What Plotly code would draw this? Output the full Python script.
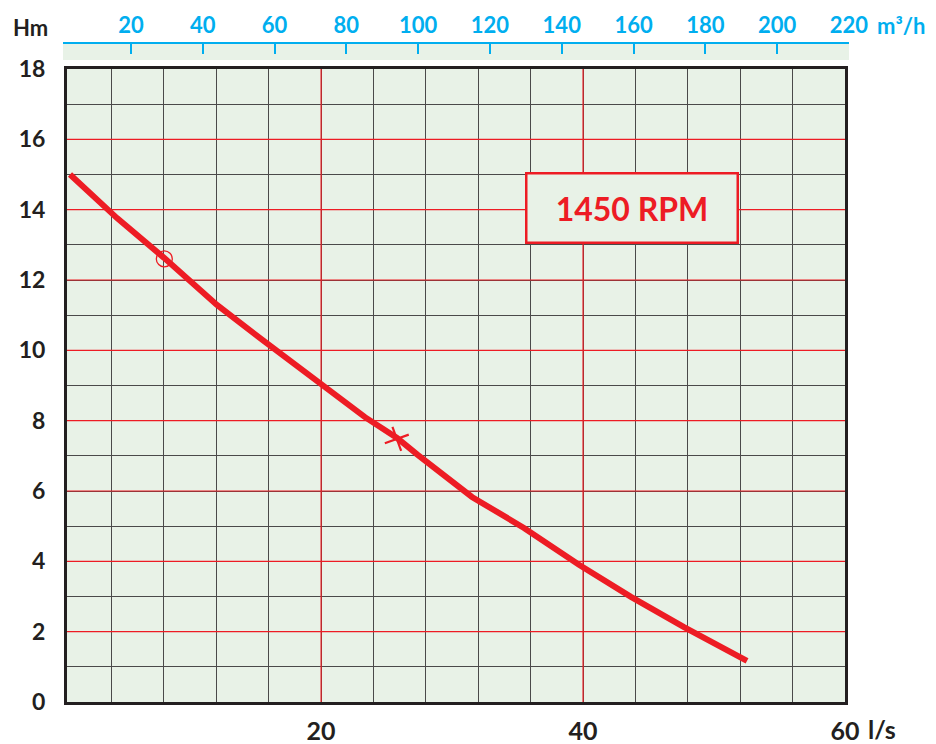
import plotly.graph_objects as go

# ---- data ----
flow_ls = [0.83, 4.42, 8.01, 12.05, 15.72, 19.31, 23.35, 25.80, 27.40, 31.52, 35.49, 39.69, 43.66, 47.71, 52.52]
head_m = [15.0, 13.76, 12.63, 11.29, 10.24, 9.21, 8.10, 7.51, 7.02, 5.83, 4.95, 3.90, 2.99, 2.13, 1.17]
circle_flow = [8.03]
circle_head = [12.6]
star_flow = [25.78]
star_head = [7.48]
rpm_label = "1450 RPM"
head_label = "Hm"
flow_unit_bottom = "l/s"
flow_unit_top = "m³/h"
x_labels = [20, 40, 60]          # labelled flow ticks (l/s)
y_labels = list(range(0, 19, 2))  # labelled head ticks (m)

# ---- styling ----
OFF = 8                      # page body margin of the browser
W, H = 936 - OFF, 744 - OFF
# plot-area box (screen pixels): x 63..849, y 40..702
ML, MR, MT, MB = 63 - OFF, 936 - 849, 40 - OFF, 744 - 702
PW, PH = W - ML - MR, H - MT - MB
RED = "#ed1c24"
DARK = "#231f20"
BLUE = "#00aeef"
GRID = "#4a4a4a"
BG = "#e8f2e7"
FONT = "Lato"
X_RANGE = [0.6, 60]
Y_RANGE = [0, 18]


def px_x(p):
    return (p - OFF - ML) / PW


def px_y(p):
    return (H - MB - (p - OFF)) / PH


# grid: fine black grid every 4 l/s and 1 m; red lines on the labelled values
x_grid = list(range(4, 61, 4))
y_grid = list(range(0, 19, 1))
x_text = [str(v) if v in x_labels else "" for v in x_grid]
y_text = [str(v) if v in y_labels else "" for v in y_grid]

fig = go.Figure()

fig.add_trace(go.Scatter(
    x=flow_ls, y=head_m, mode="lines",
    line=dict(color=RED, width=6), hoverinfo="skip", showlegend=False))
fig.add_trace(go.Scatter(
    x=circle_flow, y=circle_head, mode="markers",
    marker=dict(symbol="circle-open", size=16, color=RED, line=dict(color=RED, width=1.3)),
    showlegend=False))
fig.add_trace(go.Scatter(
    x=star_flow, y=star_head, mode="markers",
    marker=dict(symbol="x-thin", size=18, angle=25, color=RED, line=dict(color=RED, width=2.2)),
    showlegend=False))
# invisible companion trace so the top (m3/h) axis strip exists
fig.add_trace(go.Scatter(
    x=[q * 3.6 for q in flow_ls], y=[0.5] * len(flow_ls), xaxis="x2", yaxis="y2",
    mode="lines", line=dict(width=0), opacity=0, hoverinfo="skip", showlegend=False))

shapes = []
for v in x_labels:
    if X_RANGE[0] < v < X_RANGE[1]:
        shapes.append(dict(type="line", xref="x", yref="y", x0=v, x1=v,
                           y0=Y_RANGE[0], y1=Y_RANGE[1],
                           line=dict(color=RED, width=1.2), layer="above"))
for v in y_labels:
    if Y_RANGE[0] < v < Y_RANGE[1]:
        shapes.append(dict(type="line", xref="x", yref="y", x0=X_RANGE[0], x1=X_RANGE[1],
                           y0=v, y1=v, line=dict(color=RED, width=1.2), layer="above"))

fig.update_layout(
    width=W, height=H, autosize=False, showlegend=False,
    margin=dict(l=ML, r=MR, t=MT, b=MB, pad=0, autoexpand=False),
    paper_bgcolor="white", plot_bgcolor=BG,
    xaxis=dict(
        domain=[px_x(67), px_x(845)], range=X_RANGE, anchor="y", automargin=False,
        tickmode="array", tickvals=x_grid, ticktext=x_text,
        showgrid=True, gridcolor=GRID, gridwidth=1.3,
        showline=True, linewidth=3, linecolor=DARK, mirror=True,
        ticks="", zeroline=False, ticklabelstandoff=5,
        tickfont=dict(family=FONT, size=25, color=DARK, weight="bold"),
    ),
    yaxis=dict(
        domain=[0, px_y(69)], range=Y_RANGE, anchor="x", automargin=False,
        tickmode="array", tickvals=y_grid, ticktext=y_text,
        showgrid=True, gridcolor=GRID, gridwidth=1.3,
        showline=True, linewidth=3, linecolor=DARK, mirror=True,
        ticks="", zeroline=False, ticklabelstandoff=14,
        tickfont=dict(family=FONT, size=23, color=DARK, weight="bold"),
    ),
    xaxis2=dict(
        domain=[0, 1], range=[1.06, 220.02], anchor="y2", side="top", automargin=False,
        tickmode="linear", tick0=0, dtick=20,
        ticks="inside", ticklen=10, tickwidth=1.6, tickcolor=BLUE,
        showline=True, linewidth=1.8, linecolor=BLUE,
        showgrid=False, zeroline=False,
        tickfont=dict(family=FONT, size=22, color=BLUE, weight="bold"),
    ),
    yaxis2=dict(domain=[px_y(60), px_y(44)], range=[0, 1], anchor="x2", visible=False,
                automargin=False),
    shapes=shapes,
    annotations=[
        dict(text=head_label, xref="paper", yref="paper", x=px_x(11), y=px_y(28),
             xanchor="left", yanchor="middle", showarrow=False,
             font=dict(family=FONT, size=22, color=DARK, weight="bold")),
        dict(text=flow_unit_top, xref="paper", yref="paper", x=px_x(875), y=px_y(25),
             xanchor="left", yanchor="middle", showarrow=False,
             font=dict(family=FONT, size=22, color=BLUE, weight="bold")),
        dict(text=flow_unit_bottom, xref="paper", yref="paper", x=px_x(866), y=px_y(729),
             xanchor="left", yanchor="middle", showarrow=False,
             font=dict(family=FONT, size=25, color=DARK, weight="bold")),
        dict(text=rpm_label, xref="paper", yref="paper", x=px_x(632), y=px_y(208),
             xanchor="center", yanchor="middle", showarrow=False,
             width=209, height=67, borderpad=0, borderwidth=2.5, bordercolor=RED, bgcolor=BG,
             font=dict(family=FONT, size=32, color=RED, weight="bold")),
    ],
)

fig.write_html("out.html")
